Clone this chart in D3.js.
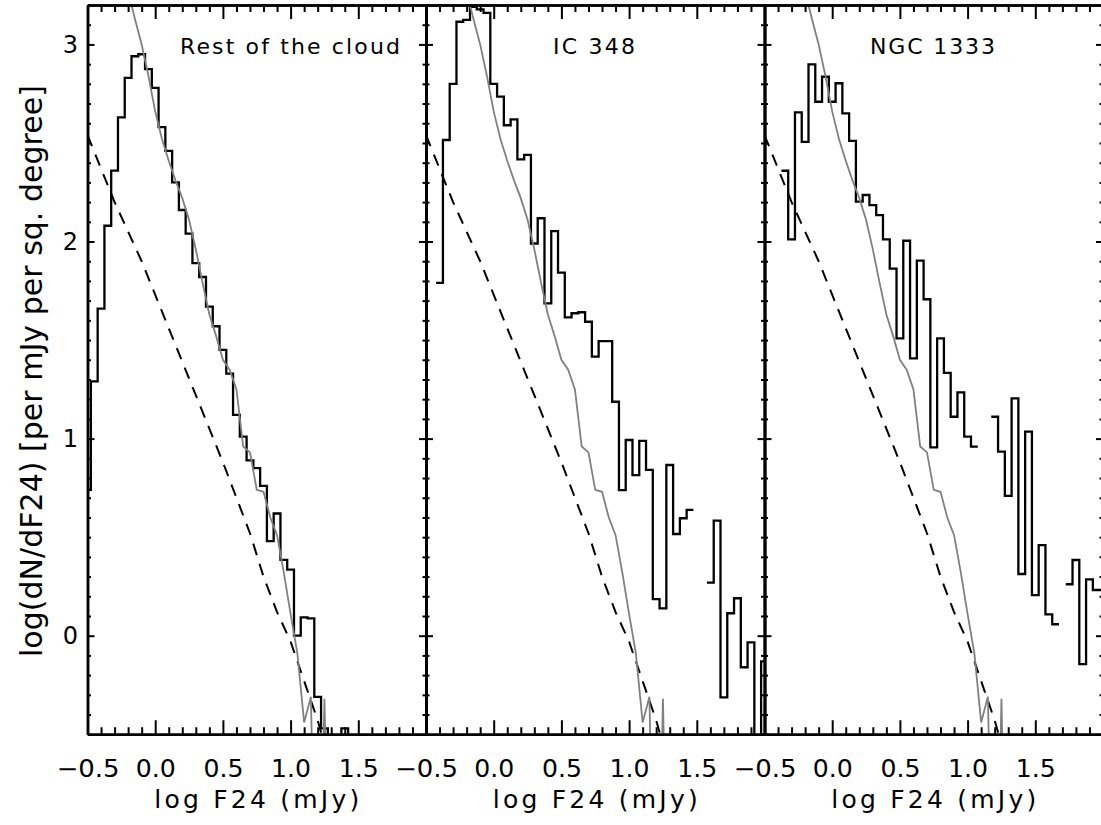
<!DOCTYPE html>
<html>
<head>
<meta charset="utf-8">
<script src="https://cdn.jsdelivr.net/npm/d3@7"></script>
<style>
  body { margin: 0; background: #fff; }
  svg { display: block; font-family: "DejaVu Sans", sans-serif; }
</style>
</head>
<body>
<div id="chart"></div>
<script>
// bin centres of log F24 (mJy), 0.05 dex bins
var binCenters = [-0.50, -0.45, -0.40, -0.35, -0.30, -0.25, -0.20, -0.15, -0.10, -0.05,
                   0.00,  0.05,  0.10,  0.15,  0.20,  0.25,  0.30,  0.35,  0.40,  0.45,
                   0.50,  0.55,  0.60,  0.65,  0.70,  0.75,  0.80,  0.85,  0.90,  0.95,
                   1.00,  1.05,  1.10,  1.15,  1.20,  1.25,  1.30,  1.35,  1.40,  1.45,
                   1.50,  1.55,  1.60,  1.65,  1.70,  1.75,  1.80,  1.85,  1.90,  1.95,
                   2.00];

// log(dN/dF24) per panel, null = empty bin
var restCloud = [0.74, 1.29, 1.66, 2.08, 2.36, 2.63, 2.83, 2.94, 2.95, 2.875,
                 2.78, 2.58, 2.46, 2.30, 2.16, 2.04, 1.89, 1.82, 1.67, 1.57,
                 1.45, 1.33, 1.12, 1.01, 0.89, 0.85, 0.76, 0.48, 0.62, 0.385,
                 0.335, 0.00, 0.093, 0.088, -0.31, -0.47, -1, -1, -0.47, -1,
                 null, null, null, null, null, null, null, null, null, null,
                 null];

var ic348 = [null, null, 1.79, 2.515, 2.80, 3.115, 3.125, 3.19, 3.178, 3.16,
             2.80, 2.735, 2.59, 2.62, 2.417, 2.44, 1.99, 2.118, 1.686, 2.053,
             1.842, 1.615, 1.636, 1.641, 1.593, 1.416, 1.495, 1.495, 1.187, 0.739,
             0.993, 0.815, 0.988, 0.841, 0.186, 0.139, 0.866, 0.516, 0.596, 0.638,
             null, null, 0.269, 0.584, -0.313, 0.114, 0.19, -0.16, -0.034, -1,
             -0.13];

var ngc1333 = [null, null, null, 2.359, 2.011, 2.655, 2.506, 2.899, 2.709, 2.836,
               2.709, 2.803, 2.65, 2.511, 2.202, 2.236, 2.185, 2.134, 2.011, 1.862,
               1.509, 2.004, 1.407, 1.903, 1.707, 0.956, 1.509, 1.334, 1.111, 1.235,
               1.01, 0.959, null, null, 1.111, 0.934, 0.709, 1.204, 0.313, 1.035,
               0.206, 0.46, 0.108, 0.058, null, 0.261, 0.384, -0.144, 0.286, 0.232,
               0.232];

// grey curve (rest of the cloud shape), same in all panels
var modelX = [-0.20, -0.15, -0.10, -0.05, 0.00, 0.05, 0.10, 0.15, 0.20, 0.25,
               0.30,  0.35,  0.40,  0.45, 0.50, 0.55, 0.60, 0.65, 0.70, 0.75,
               0.80,  0.85,  0.90,  0.95, 1.00, 1.05, 1.10, 1.15, 1.20, 1.25, 1.30];
var modelY = [3.27, 3.13, 3.00, 2.84, 2.66, 2.52, 2.41, 2.31, 2.22, 2.11,
              1.96, 1.79, 1.63, 1.52, 1.40, 1.35, 1.25, 0.96, 0.93, 0.74,
              0.73, 0.60, 0.51, 0.32, 0.11, -0.09, -0.44, -0.31, -2, -0.32, -2];

// dashed background counts
var bgX = [-0.5, -0.3, -0.1, 0.1, 0.3, 0.5, 0.7, 0.8, 0.9, 1.0, 1.1, 1.2, 1.25];
var bgY = [2.54, 2.20, 1.90, 1.56, 1.22, 0.88, 0.52, 0.30, 0.12, -0.03, -0.23, -0.43, -0.55];

var panelNames = ["Rest of the cloud", "IC 348", "NGC 1333"];
var xTickLabels = [-0.5, 0.0, 0.5, 1.0, 1.5];
var yTickLabels = [0, 1, 2, 3];

var width = 1101, height = 825;
var plotTop = 5, plotBottom = 734.25, panelW = 338.5;
var halfBin = 0.025;
var fontFamily = '"DejaVu Sans", sans-serif';

var panels = [
    {values: restCloud, left: 87.5, titleX: 0.183, titleLen: 220},
    {values: ic348,     left: 426,  titleX: 0.438, titleLen: 82},
    {values: ngc1333,   left: 764.5, titleX: 0.279, titleLen: 125}
];

var svg = d3.select("#chart").append("svg")
    .attr("width", width)
    .attr("height", height);

var y = d3.scaleLinear().domain([-0.5, 3.2]).range([plotBottom, plotTop]);

var minorX = d3.range(-5, 21).map(function(d){ return d / 10; })
    .filter(function(d){ return Math.abs(d * 2 - Math.round(d * 2)) > 1e-6; });
var minorY = d3.range(-5, 33).map(function(d){ return d / 10; })
    .filter(function(d){ return Math.abs(d - Math.round(d)) > 1e-6; });

function styleAxis(g, w){
    g.attr("font-family", null).attr("font-size", null);
    g.select(".domain").attr("stroke", "#000").attr("stroke-width", w);
    g.selectAll(".tick line").attr("stroke", "#000").attr("stroke-width", 2);
    g.selectAll("text")
        .attr("fill", "#000")
        .style("font-family", fontFamily)
        .style("font-size", "24px");
}

panels.forEach(function(p, i){
    var x = d3.scaleLinear().domain([-0.5, 2.0]).range([p.left, p.left + panelW]);

    svg.append("clipPath").attr("id", "clip" + i)
      .append("rect")
        .attr("x", p.left).attr("y", plotTop)
        .attr("width", panelW).attr("height", plotBottom - plotTop);

    var plot = svg.append("g").attr("clip-path", "url(#clip" + i + ")");

    // histogram, each bin drawn full width
    var pts = [];
    binCenters.forEach(function(c, k){
        pts.push([c - halfBin, p.values[k]]);
        pts.push([c + halfBin, p.values[k]]);
    });
    var line = d3.line()
        .defined(function(d){ return d[1] !== null; })
        .x(function(d){ return x(d[0]); })
        .y(function(d){ return y(d[1]); });

    plot.append("path")
        .attr("d", line(pts))
        .attr("fill", "none")
        .attr("stroke", "#000")
        .attr("stroke-width", 2.3)
        .attr("stroke-linejoin", "miter");

    plot.append("path")
        .attr("d", line(bgX.map(function(d, k){ return [d, bgY[k]]; })))
        .attr("fill", "none")
        .attr("stroke", "#000")
        .attr("stroke-width", 2)
        .attr("stroke-dasharray", "12,9");

    plot.append("path")
        .attr("d", line(modelX.map(function(d, k){ return [d, modelY[k]]; })))
        .attr("fill", "none")
        .attr("stroke", "#808080")
        .attr("stroke-width", 1.8);

    // axes
    svg.append("g")
        .attr("transform", "translate(0," + plotBottom + ")")
        .call(d3.axisBottom(x).tickValues(xTickLabels).tickSize(-14).tickSizeOuter(0)
            .tickPadding(25.5).tickFormat(d3.format(".1f")))
        .call(styleAxis, 2.5)
      .selectAll("text")
        .attr("textLength", function(d){ return d < 0 ? 63 : 40; })
        .attr("lengthAdjust", "spacingAndGlyphs");
    svg.append("g")
        .attr("transform", "translate(0," + plotBottom + ")")
        .call(d3.axisBottom(x).tickValues(minorX).tickSize(-7).tickSizeOuter(0).tickFormat(""))
        .call(styleAxis, 2.5);

    svg.append("g")
        .attr("transform", "translate(0," + plotTop + ")")
        .call(d3.axisTop(x).tickValues(xTickLabels.concat([2.0])).tickSize(-14).tickSizeOuter(0).tickFormat(""))
        .call(styleAxis, 2.5);
    svg.append("g")
        .attr("transform", "translate(0," + plotTop + ")")
        .call(d3.axisTop(x).tickValues(minorX).tickSize(-7).tickSizeOuter(0).tickFormat(""))
        .call(styleAxis, 2.5);

    svg.append("g")
        .attr("transform", "translate(" + p.left + ",0)")
        .call(d3.axisLeft(y).tickValues(yTickLabels).tickSize(-7).tickSizeOuter(0)
            .tickPadding(9.5).tickFormat(i === 0 ? d3.format("d") : ""))
        .call(styleAxis, 2.5);
    svg.append("g")
        .attr("transform", "translate(" + p.left + ",0)")
        .call(d3.axisLeft(y).tickValues(minorY).tickSize(-3.5).tickSizeOuter(0).tickFormat(""))
        .call(styleAxis, 2.5);

    svg.append("g")
        .attr("transform", "translate(" + (p.left + panelW) + ",0)")
        .call(d3.axisRight(y).tickValues(yTickLabels).tickSize(-7).tickSizeOuter(0).tickFormat(""))
        .call(styleAxis, 2.5);
    svg.append("g")
        .attr("transform", "translate(" + (p.left + panelW) + ",0)")
        .call(d3.axisRight(y).tickValues(minorY).tickSize(-3.5).tickSizeOuter(0).tickFormat(""))
        .call(styleAxis, 2.5);

    // panel title
    svg.append("text")
        .attr("x", x(p.titleX))
        .attr("y", y(2.949))
        .attr("font-size", 22)
        .attr("textLength", p.titleLen)
        .attr("lengthAdjust", "spacing")
        .text(panelNames[i]);

    // x title
    svg.append("text")
        .attr("x", p.left + panelW / 2)
        .attr("y", 808)
        .attr("text-anchor", "middle")
        .attr("font-size", 25)
        .attr("textLength", 205)
        .attr("lengthAdjust", "spacing")
        .text("log F24 (mJy)");
});

// y title
svg.append("text")
    .attr("transform", "translate(42,371) rotate(-90)")
    .attr("text-anchor", "middle")
    .attr("font-size", 30)
    .attr("textLength", 572)
    .attr("lengthAdjust", "spacing")
    .text("log(dN/dF24) [per mJy per sq. degree]");
</script>
</body>
</html>
